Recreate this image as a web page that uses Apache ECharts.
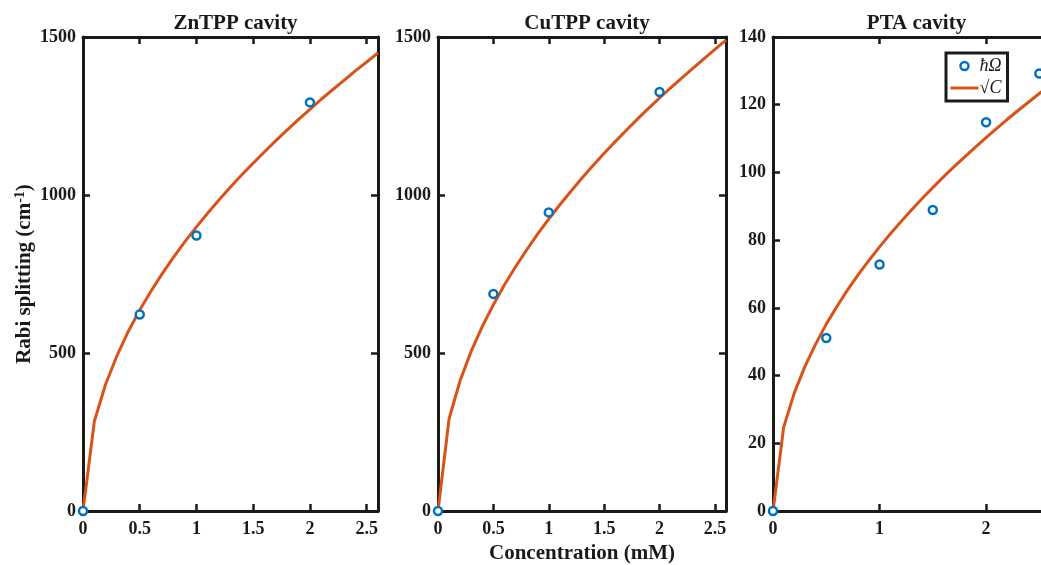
<!DOCTYPE html>
<html>
<head>
<meta charset="utf-8">
<script src="https://cdn.jsdelivr.net/npm/echarts@6/dist/echarts.min.js"></script>
<style>
html,body{margin:0;padding:0;background:#fff;}
#chart{width:1041px;height:565px;}
</style>
</head>
<body>
<div id="chart"></div>
<script>
// ---- data ----
const panelTitles = ['ZnTPP cavity', 'CuTPP cavity', 'PTA cavity'];
const pointConc = [0, 0.5, 1, 2];
const znPoints = [0, 622, 872, 1293];
const cuPoints = [0, 687, 945, 1326];
const ptaConc = [0, 0.5, 1, 1.5, 2, 2.5];
const ptaPoints = [0, 51.1, 72.8, 88.9, 114.8, 129.2];
const curveConc = [0, 0.1, 0.2, 0.3, 0.4, 0.5, 0.6, 0.7, 0.8, 0.9, 1.0, 1.1, 1.2, 1.3,
                   1.4, 1.5, 1.6, 1.7, 1.8, 1.9, 2.0, 2.1, 2.2, 2.3, 2.4, 2.5, 2.6];
const znCurve = [0, 284, 402, 492, 569, 636, 696, 752, 804, 853, 899, 943, 985, 1025,
                 1064, 1101, 1137, 1172, 1206, 1239, 1271, 1303, 1333, 1363, 1393, 1421, 1450];
const cuCurve = [0, 292, 413, 506, 584, 653, 716, 773, 826, 877, 924, 969, 1012, 1054,
                 1093, 1132, 1169, 1205, 1240, 1274, 1307, 1339, 1370, 1401, 1431, 1461, 1490];
const ptaCurve = [0, 24.7, 34.9, 42.7, 49.3, 55.2, 60.4, 65.3, 69.8, 74.0, 78.0, 81.8, 85.4, 88.9,
                  92.3, 95.5, 98.7, 101.7, 104.6, 107.5, 110.3, 113.0, 115.7, 118.3, 120.8, 123.3, 125.8];
const xMax = [2.6, 2.6, 2.6];
const xInterval = [0.5, 0.5, 1];
const yMax = [1500, 1500, 140];
const yInterval = [500, 500, 20];
const yLabel = 'Rabi splitting (cm{sup|-1})';
const xLabel = 'Concentration (mM)';
const pointName = 'ħΩ';
const curveName = '√C';

// ---- chart ----
const FONT = '"Liberation Serif", "Times New Roman", serif';
const BLUE = '#0072BD', ORANGE = '#D95319', INK = '#1a1a1a';
const grids = [
  {left: 83, top: 37, width: 295, height: 474, outerBoundsMode: 'none', containLabel: false},
  {left: 438, top: 37, width: 288, height: 474, outerBoundsMode: 'none', containLabel: false},
  {left: 773, top: 37, width: 277, height: 474, outerBoundsMode: 'none', containLabel: false}
];
const pts = [pointConc.map((c, i) => [c, znPoints[i]]),
             pointConc.map((c, i) => [c, cuPoints[i]]),
             ptaConc.map((c, i) => [c, ptaPoints[i]])];
const curves = [znCurve, cuCurve, ptaCurve].map(arr => curveConc.map((c, i) => [c, arr[i]]));

const axLine = {show: true, onZero: false, lineStyle: {color: INK, width: 3}};
const axTick = {show: true, inside: true, length: 7, lineStyle: {color: INK, width: 2.5}};
const lblStyle = {color: INK, fontFamily: FONT, fontWeight: 'bold', fontSize: 18, formatter: v => String(v)};

const xAxes = [], yAxes = [], series = [], titles = [];
grids.forEach((g, i) => {
  titles.push({
    text: panelTitles[i], left: g.left + g.width / 2, top: 8, textAlign: 'center',
    textStyle: {fontFamily: FONT, fontWeight: 'bold', fontSize: 21, color: INK}
  });
  xAxes.push({
    gridIndex: i, type: 'value', position: 'bottom', min: 0, max: xMax[i], interval: xInterval[i],
    axisLine: axLine, axisTick: axTick, splitLine: {show: false},
    axisLabel: Object.assign({margin: 9, showMaxLabel: false}, lblStyle),
    name: i === 1 ? xLabel : '', nameLocation: 'middle', nameGap: 32,
    nameTextStyle: {fontFamily: FONT, fontWeight: 'bold', fontSize: 21, color: INK}
  });
  xAxes.push({
    gridIndex: i, type: 'value', position: 'top', min: 0, max: xMax[i], interval: xInterval[i],
    axisLine: axLine, axisTick: axTick, splitLine: {show: false}, axisLabel: {show: false}
  });
  yAxes.push({
    gridIndex: i, type: 'value', position: 'left', min: 0, max: yMax[i], interval: yInterval[i],
    axisLine: axLine, axisTick: axTick, splitLine: {show: false},
    axisLabel: Object.assign({margin: 7}, lblStyle),
    name: i === 0 ? yLabel : '', nameLocation: 'middle', nameGap: 47,
    nameTextStyle: {fontFamily: FONT, fontWeight: 'bold', fontSize: 21, color: INK,
      rich: {sup: {fontFamily: FONT, fontWeight: 'bold', fontSize: 14, color: INK, verticalAlign: 'top', padding: [0, 0, 9, 0]}}}
  });
  yAxes.push({
    gridIndex: i, type: 'value', position: 'right', min: 0, max: yMax[i], interval: yInterval[i],
    axisLine: axLine, axisTick: axTick, splitLine: {show: false}, axisLabel: {show: false}
  });
  series.push({
    type: 'line', name: curveName, xAxisIndex: 2 * i, yAxisIndex: 2 * i, data: curves[i],
    showSymbol: false, symbol: 'none', smooth: false, z: 2,
    lineStyle: {color: ORANGE, width: 3}, itemStyle: {color: ORANGE}
  });
  series.push({
    type: 'scatter', name: pointName, xAxisIndex: 2 * i, yAxisIndex: 2 * i, data: pts[i],
    symbol: 'circle', symbolSize: 8, z: 3,
    itemStyle: {color: '#ffffff', borderColor: BLUE, borderWidth: 2.5, opacity: 1}
  });
});

const chart = echarts.init(document.getElementById('chart'), null, {renderer: 'canvas'});
chart.setOption({
  backgroundColor: '#ffffff',
  animation: false,
  title: titles,
  grid: grids,
  xAxis: xAxes,
  yAxis: yAxes,
  legend: {
    data: [{name: pointName, icon: 'circle', itemStyle: {color: '#ffffff', borderColor: BLUE, borderWidth: 2.5}},
           {name: curveName, itemStyle: {opacity: 0}, lineStyle: {color: ORANGE, width: 3, opacity: 1}}],
    orient: 'vertical', left: 946, top: 53, width: 64,
    padding: [4, 6, 4, 3], itemGap: 4, itemWidth: 28, itemHeight: 8,
    backgroundColor: '#ffffff', borderColor: INK, borderWidth: 3,
    textStyle: {fontFamily: FONT, fontStyle: 'italic', fontSize: 18, color: INK, padding: [0, 0, 0, -4]},
    selectedMode: false
  },
  series: series
});
</script>
</body>
</html>
